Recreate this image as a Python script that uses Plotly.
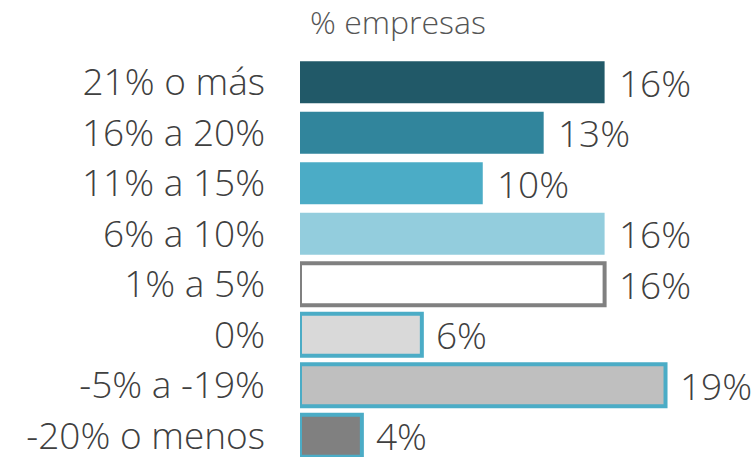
import plotly.graph_objects as go

categories = ["21% o más", "16% a 20%", "11% a 15%", "6% a 10%", "1% a 5%", "0%", "-5% a -19%", "-20% o menos"]
values = [16.0, 12.8, 9.6, 16.0, 16.0, 6.4, 19.2, 3.25]
labels = ["16%", "13%", "10%", "16%", "16%", "6%", "19%", "4%"]
fills = ["#215968", "#31859C", "#4BACC6", "#93CDDD", "#FFFFFF", "#D9D9D9", "#BFBFBF", "#808080"]
borders = ["#215968", "#31859C", "#4BACC6", "#93CDDD", "#808080", "#4BACC6", "#4BACC6", "#4BACC6"]
border_w = [0, 0, 0, 0, 4, 4, 4, 4]

FONT = "Open Sans"
pos = list(range(len(categories)))

fig = go.Figure()
fig.add_trace(go.Bar(
    x=values, y=pos, orientation="h",
    marker=dict(color=fills, line=dict(color=borders, width=border_w)),
    width=0.83, hoverinfo="skip",
))
for v, p, t in zip(values, pos, labels):
    fig.add_annotation(x=v, y=p, text=t, xanchor="left", yanchor="middle", showarrow=False,
                       xshift=12, yshift=0,
                       font=dict(family=FONT, size=37, weight=300, color="#404040"))
fig.add_annotation(x=0, y=1, xref="paper", yref="paper", text="% empresas", showarrow=False,
                   xanchor="left", yanchor="bottom", xshift=8, yshift=12,
                   font=dict(family=FONT, size=32, weight=300, color="#555555"))

fig.update_layout(
    width=755, height=457, margin=dict(l=300, r=0, t=57, b=0, autoexpand=False),
    plot_bgcolor="white", paper_bgcolor="white", showlegend=False,
    xaxis=dict(range=[0, 23.9], visible=False, automargin=False),
    yaxis=dict(range=[7.42, -0.5], tickvals=pos, ticktext=categories, showgrid=False,
               zeroline=False, showline=False, ticks="", ticklabelstandoff=34, automargin=False,
               ticklabeloverflow="allow",
               tickfont=dict(family=FONT, size=37, weight=300, color="#404040")),
)
fig.write_html("out.html", config={"displayModeBar": False},
               post_script="document.body.style.margin='0';document.body.style.padding='0';")
